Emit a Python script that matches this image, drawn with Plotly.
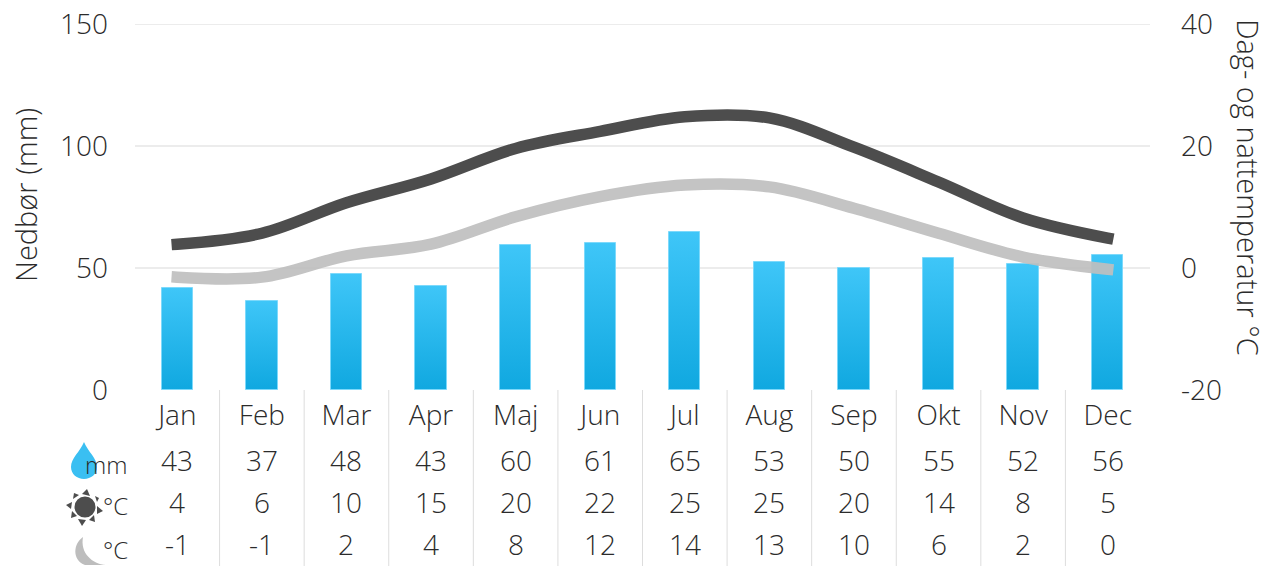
import plotly.graph_objects as go

months = ["Jan", "Feb", "Mar", "Apr", "Maj", "Jun", "Jul", "Aug", "Sep", "Okt", "Nov", "Dec"]
rain_bars = [42, 36.6, 47.6, 42.5, 59.6, 60.2, 64.6, 52.6, 49.8, 54.2, 51.5, 55.2]
day_line = [3.9, 5.7, 10.7, 14.6, 19.6, 22.4, 24.8, 24.6, 19.8, 14.1, 8.2, 4.9]
night_line = [-1.5, -1.5, 2, 3.9, 8.4, 11.7, 13.6, 13.3, 9.8, 5.7, 1.8, -0.2]
rain_table = ["43", "37", "48", "43", "60", "61", "65", "53", "50", "55", "52", "56"]
day_table = ["4", "6", "10", "15", "20", "22", "25", "25", "20", "14", "8", "5"]
night_table = ["-1", "-1", "2", "4", "8", "12", "14", "13", "10", "6", "2", "0"]
left_ticks = [0, 50, 100, 150]
right_ticks = [-20, 0, 20, 40]
right_labels = ["-20", "0", "20", "40"]

W, H = 1268, 566
L, R, T, B = 135, 1150, 24, 390
FONT = "Open Sans"
INK = "#2b2b2b"


def px(x):
    return (x - L) / (R - L)


def py(y):
    return (B - y) / (B - T)


def path(cmds):
    out = []
    for c in cmds:
        if isinstance(c, str):
            out.append(c)
        else:
            out.append(f"{px(c[0]):.5f} {py(c[1]):.5f}")
    return " ".join(out)


fig = go.Figure()
fig.add_bar(x=months, y=rain_bars, width=0.37, marker=dict(color="#29B8EE", line=dict(width=1, color="#7DD9FB")),
            name="Nedbør", yaxis="y", hoverinfo="skip")
fig.add_scatter(x=months, y=day_line, mode="lines", yaxis="y2", name="Dag",
                line=dict(color="#4D4D4D", width=11.5, shape="spline", smoothing=1.0), hoverinfo="skip")
fig.add_scatter(x=months, y=night_line, mode="lines", yaxis="y2", name="Nat", opacity=0.92,
                line=dict(color="#BFBFBF", width=11.5, shape="spline", smoothing=1.0), hoverinfo="skip")

shapes = []
for v in left_ticks[1:]:
    shapes.append(dict(type="line", xref="paper", x0=0, x1=1, yref="y", y0=v, y1=v,
                       line=dict(color="#E6E6E6", width=1.5), layer="below"))
for i in range(len(months) - 1):
    shapes.append(dict(type="line", xref="x", x0=i + 0.5, x1=i + 0.5, yref="paper", y0=0, y1=py(566),
                       line=dict(color="#DDDDDD", width=1), layer="below"))

# drop
shapes.append(dict(type="path", xref="paper", yref="paper", line=dict(width=0), fillcolor="#3ABFF2", layer="below",
                   path=path(["M", (84, 442), "C", (88, 452), (97, 458), (97, 467), "C", (97, 474), (91, 479), (84, 479),
                              "C", (77, 479), (71, 474), (71, 467), "C", (71, 458), (80, 452), (84, 442), "Z"])))
# sun
SUN = "#4D4D4D"
shapes.append(dict(type="circle", xref="paper", yref="paper", line=dict(width=0), fillcolor=SUN,
                   x0=px(74.5), x1=px(95.5), y0=py(517.5), y1=py(496.5)))
rays = [(87, 489), (99, 498), (103, 511), (95, 522), (82, 526), (71, 518), (66, 505), (74, 493)]
bases = [((82, 494), (90, 496)), ((95, 496), (97, 502)), ((97, 506), (97, 514)), ((94, 515), (89, 520)),
         ((86, 520), (78, 519)), ((77, 516), (72, 511)), ((71, 509), (72, 502)), ((73, 499), (79, 495))]
for tip, (a, b) in zip(rays, bases):
    shapes.append(dict(type="path", xref="paper", yref="paper", line=dict(width=0), fillcolor=SUN,
                       path=path(["M", tip, "L", a, "L", b, "Z"])))
# moon
shapes.append(dict(type="path", xref="paper", yref="paper", line=dict(width=0), fillcolor="#BDBDBD",
                   path=path(["M", (83, 537), "C", (73, 544), (72, 560), (85, 565), "L", (106, 565),
                              "C", (92, 564), (80, 553), (83, 537), "Z"])))

ann = []


def label(x, y, text, size, xref="paper", angle=0):
    ann.append(dict(x=x if xref != "paper" else px(x), xref=xref, y=py(y), yref="paper", text=text, showarrow=False,
                    textangle=angle, font=dict(family=FONT, size=size, color=INK, weight=300),
                    xanchor="center", yanchor="middle"))


for i, m in enumerate(months):
    label(i, 460, rain_table[i], 28, "x")
    label(i, 502, day_table[i], 28, "x")
    label(i, 544, night_table[i], 28, "x")
label(106, 464, "mm", 24)
label(115, 505, "°C", 24)
label(115, 549, "°C", 24)
label(25, 195, "Nedbør (mm)", 29, angle=-90)
label(1249, 187, "Dag- og nattemperatur °C", 29, angle=90)

fig.update_layout(
    width=W, height=H, autosize=False, margin=dict(l=L, r=W - R, t=T, b=H - B, autoexpand=False),
    paper_bgcolor="white", plot_bgcolor="white", showlegend=False, bargap=0,
    font=dict(family=FONT, color=INK, size=28, weight=300), shapes=shapes, annotations=ann,
    xaxis=dict(type="category", range=[-0.5, 11.5], showgrid=False, zeroline=False, showline=False,
               ticks="", ticklabelstandoff=6, tickfont=dict(family=FONT, size=28, color=INK, weight=300)),
    yaxis=dict(range=[0, 150], tickvals=left_ticks, showgrid=False, zeroline=False, showline=False,
               ticks="", ticklabelstandoff=26, tickfont=dict(family=FONT, size=28, color=INK, weight=300)),
    yaxis2=dict(range=[-20, 40], tickvals=right_ticks, ticktext=right_labels, overlaying="y", side="right",
                showgrid=False, zeroline=False, showline=False, ticks="", ticklabelstandoff=30,
                tickfont=dict(family=FONT, size=28, color=INK, weight=300)),
)

post = """
document.documentElement.style.margin='0';
document.body.style.margin='0';
document.body.style.overflow='hidden';
var gd = document.querySelector('.plotly-graph-div');
function paint(){
  var svg = gd.querySelector('svg.main-svg');
  var defs = svg.querySelector('defs');
  if(!document.getElementById('barGrad')){
    var ns='http://www.w3.org/2000/svg';
    var g=document.createElementNS(ns,'linearGradient');
    g.setAttribute('id','barGrad');g.setAttribute('x1','0');g.setAttribute('y1','0');g.setAttribute('x2','0');g.setAttribute('y2','1');
    [['0','#3FC6F8'],['1','#10A8E0']].forEach(function(s){
      var t=document.createElementNS(ns,'stop');t.setAttribute('offset',s[0]);t.setAttribute('stop-color',s[1]);g.appendChild(t);
    });
    defs.appendChild(g);
  }
  gd.querySelectorAll('.barlayer .point path').forEach(function(p){p.style.fill='url(#barGrad)';});
  gd.querySelectorAll('.scatterlayer .js-line').forEach(function(p){p.style.strokeLinecap='square';});
}
paint();
gd.on('plotly_afterplot', paint);
"""
fig.write_html("out.html", post_script=post, config={"displayModeBar": False})
